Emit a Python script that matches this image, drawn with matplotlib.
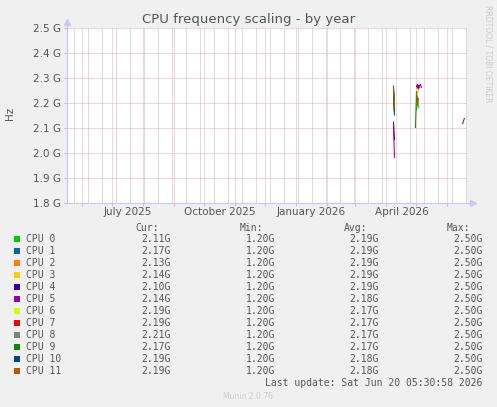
#!/usr/bin/env python3
"""Munin style plot: CPU frequency scaling - by year."""

import matplotlib
matplotlib.use('Agg')
import matplotlib.pyplot as plt
import matplotlib.patches as mpatches
import matplotlib.transforms as mtransforms
import numpy as np
import pandas as pd

nan = np.nan

# sample days (gap days carry NaN so the lines break)
dates = np.array(['2026-04-08', '2026-04-09', '2026-04-20', '2026-04-30', '2026-05-01',
                  '2026-05-02', '2026-05-03', '2026-05-04', '2026-05-05', '2026-05-06',
                  '2026-05-20', '2026-06-16', '2026-06-18'], dtype='datetime64[D]')

# values in GHz, one list per CPU
cpu0 = [2.25, 2.17, nan, nan, 2.17, 2.22, 2.18, nan, nan, nan, nan, nan, nan]
cpu1 = [2.26, 2.16, nan, nan, 2.23, 2.20, 2.22, nan, nan, nan, nan, nan, nan]
cpu2 = [2.26, 2.18, nan, nan, 2.235, 2.20, 2.215, nan, nan, nan, nan, nan, nan]
cpu3 = [2.25, 2.17, nan, nan, 2.26, 2.24, 2.25, nan, nan, nan, nan, nan, nan]
cpu4 = [2.125, 2.05, nan, nan, 2.27, 2.26, 2.27, 2.26, nan, nan, nan, nan, nan]
cpu5 = [2.115, 1.98, nan, nan, 2.265, 2.275, 2.255, 2.27, 2.275, 2.26, nan, 2.115, 2.14]
cpu6 = [2.24, 2.17, nan, nan, 2.24, 2.22, nan, nan, nan, nan, nan, nan, nan]
cpu7 = [2.25, 2.17, nan, nan, 2.23, 2.21, nan, nan, nan, nan, nan, nan, nan]
cpu8 = [2.26, 2.16, nan, nan, 2.22, 2.21, nan, nan, nan, nan, nan, nan, nan]
cpu9 = [2.24, 2.17, nan, 2.10, 2.245, 2.20, nan, nan, nan, nan, nan, nan, nan]
cpu10 = [2.27, 2.15, nan, nan, 2.23, nan, nan, nan, nan, nan, nan, nan, nan]
cpu11 = [2.265, 2.18, nan, nan, 2.24, 2.19, 2.22, nan, nan, nan, nan, nan, nan]
series = [cpu0, cpu1, cpu2, cpu3, cpu4, cpu5, cpu6, cpu7, cpu8, cpu9, cpu10, cpu11]

labels = [f'CPU {i}' for i in range(12)]
colors = ['#00CC00', '#0066B3', '#FF8000', '#FFCC00', '#330099', '#990099',
          '#CCFF00', '#FF0000', '#808080', '#008F00', '#00487D', '#B35A00']

cur_vals = [2.11, 2.17, 2.13, 2.14, 2.10, 2.14, 2.19, 2.19, 2.21, 2.17, 2.19, 2.19]
min_vals = [1.20] * 12
avg_vals = [2.19, 2.19, 2.19, 2.19, 2.19, 2.18, 2.17, 2.17, 2.17, 2.17, 2.18, 2.18]
max_vals = [2.50] * 12

y_ticks = [1.8, 1.9, 2.0, 2.1, 2.2, 2.3, 2.4, 2.5]
x_label_dates = ['2025-07-16', '2025-10-16', '2026-01-16', '2026-04-16']
x_labels = ['July 2025', 'October 2025', 'January 2026', 'April 2026']

start = np.datetime64('2025-05-16T05:30:58')
end = np.datetime64('2026-06-20T05:30:58')

W, H = 497, 407
BG = '#F0F0F0'
TXT = '#555555'
MGRID = '#EDAFAF'
MINGRID = '#BBBBBB'
AXIS = '#C8C8F5'
DOT = (0, (1, 1))

fig = plt.figure(figsize=(W / 100, H / 100), dpi=100, facecolor=BG)
ax = fig.add_axes([66.7 / W, (H - 203) / H, 400 / W, 175 / H])
ax.set_facecolor('white')

for vals, color in zip(series, colors):
    ax.plot(dates, vals, color=color, linewidth=0.75, solid_capstyle='butt')

ax.set_xlim(start, end)
ax.set_ylim(1.8, 2.5)

# grid: grey every two weeks, red at month starts and every 0.1 G
grid_kw = dict(linewidth=0.72, linestyle=DOT, zorder=0, snap=True)
for d in pd.date_range('2025-05-24', '2026-06-20', freq='14D'):
    ax.axvline(d, color=MINGRID, **grid_kw)
for d in pd.date_range('2025-06-01', '2026-06-01', freq='MS'):
    ax.axvline(d, color=MGRID, **grid_kw)
for v in y_ticks[1:]:
    ax.axhline(v, color=MGRID, **grid_kw)

ax.set_xticks(pd.date_range('2025-06-01', '2026-06-01', freq='MS'))
ax.set_xticklabels([])
ax.tick_params(axis='x', length=2, width=0.75, color=MGRID)
ax.set_yticks(y_ticks)
ax.set_yticklabels([f'{v:.1f} G' for v in y_ticks], fontsize=7.5, color=TXT)
ax.tick_params(axis='y', length=2, width=0.75, color=MGRID, pad=2)

trans = mtransforms.blended_transform_factory(ax.transData, ax.transAxes)
for d, lab in zip(x_label_dates, x_labels):
    ax.text(np.datetime64(d), -0.05, lab, transform=trans, ha='center', va='center',
            fontsize=7.5, color=TXT)

for s in ax.spines.values():
    s.set_visible(False)
ax.plot([0, 0], [0, 1.035], color=AXIS, linewidth=0.8, transform=ax.transAxes, clip_on=False)
ax.plot([0, 1.015], [0, 0], color=AXIS, linewidth=0.8, transform=ax.transAxes, clip_on=False)
ax.plot([0], [1.035], marker='^', markersize=4, color=AXIS, transform=ax.transAxes, clip_on=False)
ax.plot([1.015], [0], marker='>', markersize=4, color=AXIS, transform=ax.transAxes, clip_on=False)

fig.text(0.5, 1 - 19 / H, 'CPU frequency scaling - by year', ha='center', va='center',
         fontsize=9.5, color=TXT)
fig.text(10 / W, 1 - 113 / H, 'Hz', rotation=90, ha='center', va='center', fontsize=7.5, color=TXT)
fig.text(488 / W, 1 - 5 / H, 'RRDTOOL / TOBI OETIKER', rotation=270, ha='center', va='top',
         fontsize=5.5, color='#CCCCCC')

# legend table
mono = dict(family='DejaVu Sans Mono', fontsize=7, color=TXT, va='center')
col_right = [171, 275.3, 379, 482.3]
heads = ['Cur:', 'Min:', 'Avg:', 'Max:']
for x, h in zip(col_right, heads):
    fig.text((x - 12) / W, 1 - 227.5 / H, h, ha='right', **mono)

for i, lab in enumerate(labels):
    yc = 239 + 12 * i
    fig.patches.append(mpatches.Rectangle((14 / W, 1 - (yc + 3) / H), 6 / W, 6 / H,
                                          transform=fig.transFigure, facecolor=colors[i],
                                          edgecolor='none'))
    fig.text(26.3 / W, 1 - yc / H, lab, ha='left', **mono)
    for x, col in zip(col_right, [cur_vals, min_vals, avg_vals, max_vals]):
        fig.text(x / W, 1 - yc / H, f'{col[i]:.2f}G', ha='right', **mono)

fig.text(482.3 / W, 1 - 383.3 / H, 'Last update: Sat Jun 20 05:30:58 2026', ha='right', **mono)
fig.text(247.7 / W, 1 - 396.7 / H, 'Munin 2.0.76', ha='center', va='center', fontsize=5.5,
         color='#CCCCCC')

fig.savefig('out.png', dpi=100, facecolor=BG)
plt.close(fig)
